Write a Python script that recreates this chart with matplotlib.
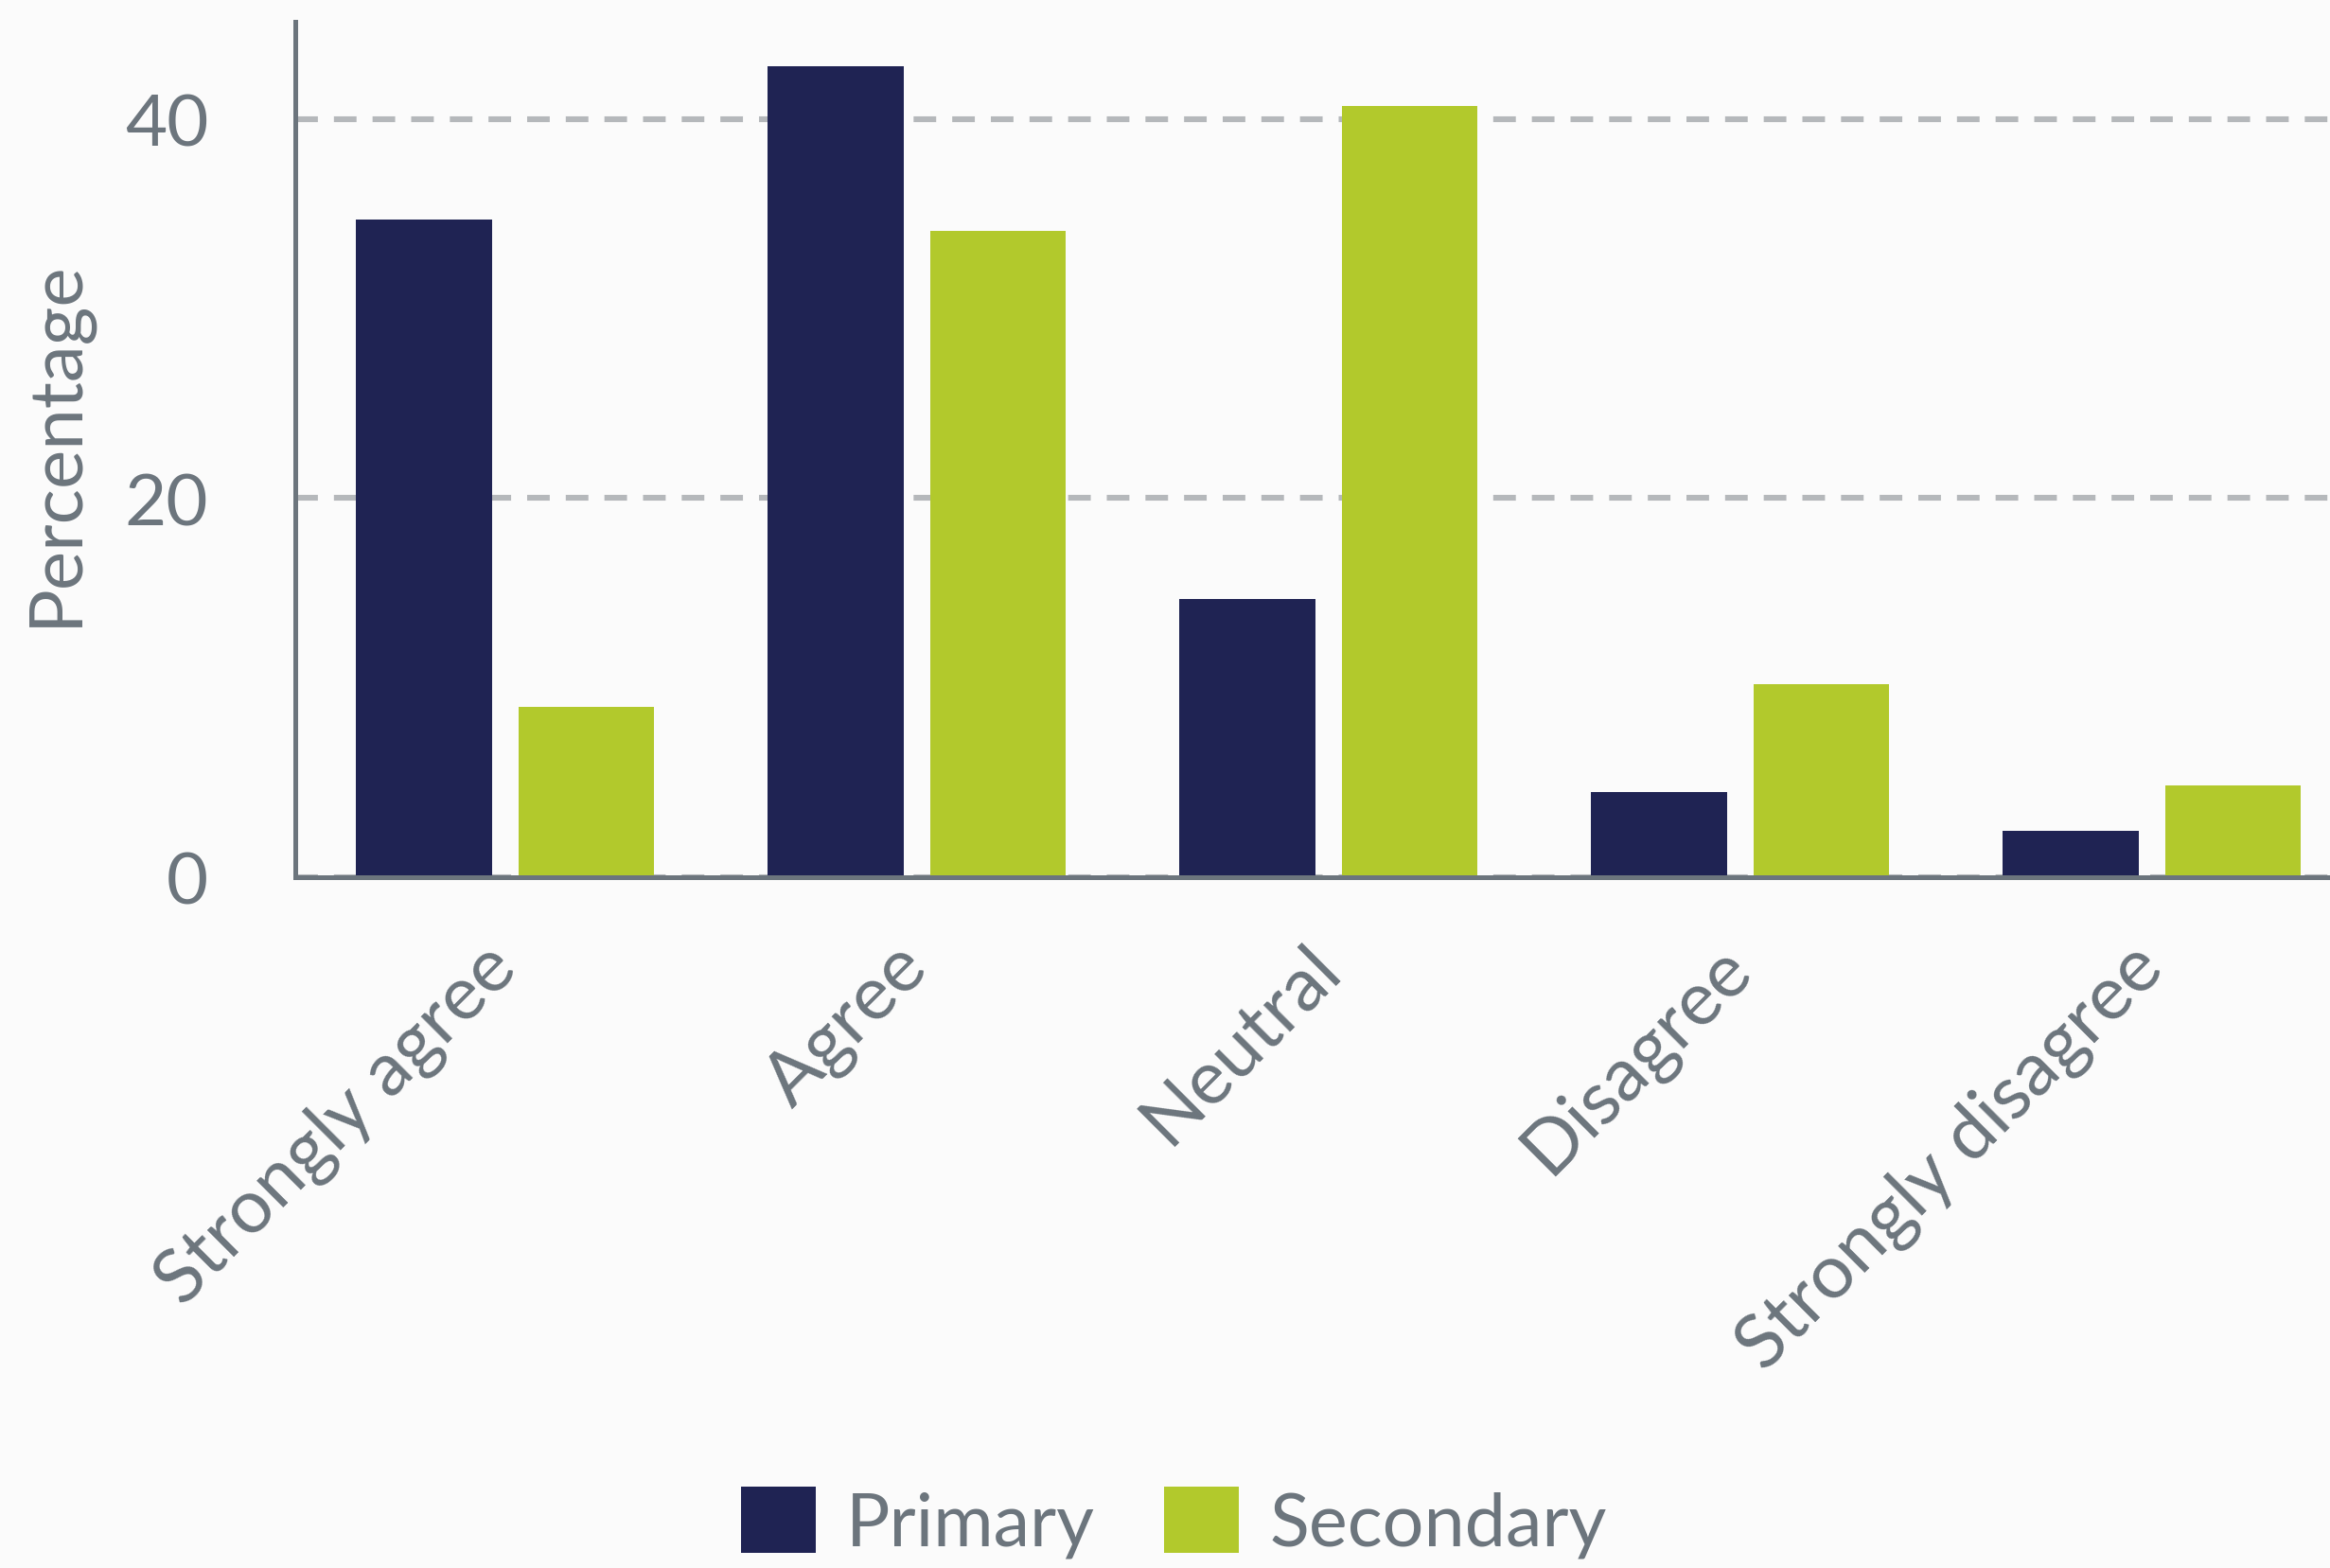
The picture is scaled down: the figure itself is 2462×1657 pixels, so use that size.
import matplotlib
matplotlib.use("Agg")
import matplotlib.pyplot as plt
import numpy as np

categories = ["Strongly agree", "Agree", "Neutral", "Disagree", "Strongly disagree"]
primary = [34.7, 42.8, 14.7, 4.5, 2.45]
secondary = [9.0, 34.1, 40.7, 10.2, 4.85]
series_names = ["Primary", "Secondary"]
yticks = [0, 20, 40]

plt.rcParams['font.family'] = ['Lato', 'DejaVu Sans']
plt.rcParams['lines.scale_dashes'] = False

BG = "#fbfbfb"
NAVY = "#1f2353"
LIME = "#b2c92c"
TXT = "#6c757d"
GRID = "#b5b8bb"

fig = plt.figure(figsize=(12.31, 8.29), dpi=200, facecolor=BG)
ax = fig.add_axes([0.1267, 0.4403, 0.8733, 0.5452])
ax.set_facecolor(BG)

x = np.arange(len(categories))
w = 0.33
off = 0.197
ax.bar(x - off, primary, width=w, color=NAVY, label=series_names[0], zorder=3)
ax.bar(x + off, secondary, width=w, color=LIME, label=series_names[1], zorder=3)

ax.set_xlim(-0.51, 4.433)
ax.set_ylim(0, 45.13)
ax.set_yticks(yticks)
ax.yaxis.grid(True, color=GRID, linewidth=2.2, linestyle=(0, (8.6, 6.1)), zorder=1)
ax.set_axisbelow(True)

for s in ["top", "right"]:
    ax.spines[s].set_visible(False)
for s in ["left", "bottom"]:
    ax.spines[s].set_color(TXT)
    ax.spines[s].set_linewidth(1.8)
    ax.spines[s].set_zorder(4)

ax.tick_params(axis='y', length=0, pad=33, labelsize=27.5, labelcolor=TXT)
ax.tick_params(axis='x', length=0, pad=30, labelsize=28.5, labelcolor=TXT)
ax.set_xticks(x)
ax.set_xticklabels(categories, rotation=45, ha='right', va='center', rotation_mode='anchor')

ax.set_ylabel("Percentage", fontsize=28.2, color=TXT, labelpad=13)
ax.yaxis.label.set_y(0.509)

leg = fig.legend(loc='center', bbox_to_anchor=(0.5038, 0.029), ncol=2, frameon=False,
                 fontsize=27.8, handlelength=1.02, handleheight=1.02, handletextpad=0.42,
                 columnspacing=0.95, borderpad=0)
for t in leg.get_texts():
    t.set_color(TXT)

fig.savefig("out.png", dpi=200, facecolor=BG)
